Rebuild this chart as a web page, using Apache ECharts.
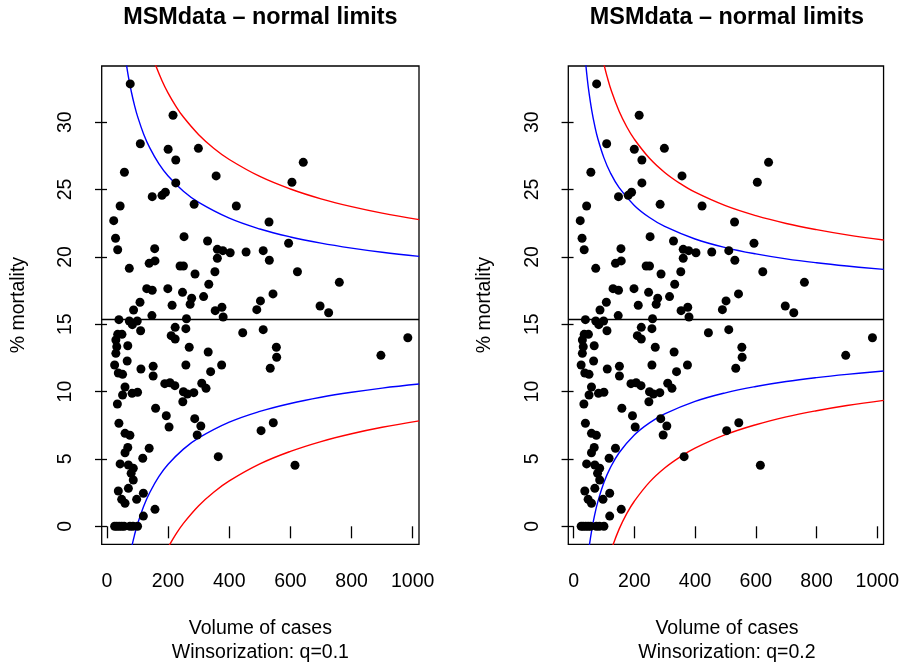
<!DOCTYPE html>
<html>
<head>
<meta charset="utf-8">
<script src="https://cdn.jsdelivr.net/npm/echarts@6.0.0/dist/echarts.min.js"></script>
<style>
html,body{margin:0;padding:0;background:#fff;}
#chart{width:902px;height:666px;}
</style>
</head>
<body>
<div id="chart"></div>
<script>
// ---- data ----
var volume = [76,216,109,200,299,225,57,357,225,148,180,191,285,423,43,22,530,28,252,329,35,156,361,379,403,455,511,361,531,
73,138,157,239,250,288,353,333,130,148,199,247,316,543,277,108,272,213,502,87,354,376,490,147,380,39,260,73,83,99,110,223,258,444,511,35,49,29,32,29,68,210,223,269,554,331,555,66,25,111,151,258,375,534,37,51,151,339,189,206,222,310,324,59,51,82,100,250,263,284,248,34,159,194,203,287,307,39,544,504,59,75,295,
68,59,138,117,364,43,70,86,79,86,37,70,119,48,59,97,157,119,25,32,40,48,56,75,85,100,
642,605,594,623,760,697,725,896,984,615];
var mortality = [32.84,30.51,28.40,27.99,28.06,27.19,26.28,26.01,25.49,24.47,24.57,24.80,23.90,23.78,23.78,22.69,22.59,21.38,21.50,21.18,20.53,20.61,20.56,20.46,20.31,20.36,20.46,19.90,19.75,
19.15,19.52,19.70,19.32,19.32,18.73,18.90,17.97,17.64,17.52,17.64,17.37,17.05,17.25,16.93,16.63,16.48,16.41,16.73,16.06,16.01,16.26,16.08,15.64,15.54,15.34,15.41,15.24,14.97,15.24,14.52,14.77,14.67,14.37,14.60,14.25,14.25,13.83,13.33,12.84,13.40,14.15,13.90,13.29,13.29,12.94,12.55,12.27,11.97,11.68,11.88,11.97,11.97,11.73,11.38,11.28,11.16,11.48,10.59,10.66,10.44,10.62,10.24,10.34,9.75,9.87,9.95,9.99,9.82,9.92,9.25,9.08,8.76,8.21,7.37,7.99,7.45,7.65,7.69,7.10,6.90,6.76,6.78,
5.85,5.46,5.79,5.05,5.17,4.63,4.55,4.31,3.93,3.44,2.62,2.82,2.45,2.00,1.71,2.00,1.26,0.76,0,0,0,0,0,0,0,0,
27.02,25.54,21.01,18.90,18.11,16.35,15.85,12.69,14.00,4.53];

var targetRate = 15.34;

// q = 0.1 limits (blue: inner, red: outer)
var q1InnerUpper = [[64,34.21],[70,33.38],[80,32.22],[90,31.25],[100,30.43],[120,29.11],[140,28.09],[170,26.90],[200,26.00],[250,24.87],[300,24.04],[400,22.87],[500,22.07],[600,21.48],[700,21.02],[800,20.65],[900,20.34],[1021,20.04]];
var q1InnerLower = [[80,-1.62],[90,-0.65],[100,0.17],[120,1.49],[140,2.51],[170,3.70],[200,4.60],[250,5.73],[300,6.56],[400,7.73],[500,8.53],[600,9.12],[700,9.58],[800,9.95],[900,10.26],[1021,10.56]];
var q1OuterUpper = [[155,34.46],[180,33.08],[200,32.16],[225,31.20],[250,30.38],[300,29.07],[350,28.05],[400,27.23],[500,25.97],[600,25.04],[700,24.31],[800,23.73],[900,23.25],[1021,22.77]];
var q1OuterLower = [[200,-1.56],[225,-0.60],[250,0.22],[300,1.53],[350,2.55],[400,3.37],[500,4.63],[600,5.56],[700,6.29],[800,6.87],[900,7.35],[1021,7.83]];

// q = 0.2 limits
var q2InnerUpper = [[40,34.35],[45,33.26],[50,32.34],[60,30.86],[70,29.70],[80,28.77],[100,27.35],[120,26.30],[150,25.14],[200,23.82],[250,22.92],[300,22.26],[400,21.33],[500,20.69],[600,20.22],[700,19.85],[800,19.56],[900,19.32],[1021,19.07]];
var q2InnerLower = [[50,-1.74],[60,-0.26],[70,0.90],[80,1.83],[100,3.25],[120,4.30],[150,5.46],[200,6.78],[250,7.68],[300,8.34],[400,9.27],[500,9.91],[600,10.38],[700,10.75],[800,11.04],[900,11.28],[1021,11.53]];
var q2OuterUpper = [[100,34.30],[110,33.42],[125,32.29],[150,30.81],[175,29.66],[200,28.74],[250,27.32],[300,26.27],[350,25.46],[400,24.80],[500,23.80],[600,23.06],[700,22.48],[800,22.02],[900,21.63],[1021,21.25]];
var q2OuterLower = [[125,-1.69],[150,-0.21],[175,0.94],[200,1.86],[250,3.28],[300,4.33],[350,5.14],[400,5.80],[500,6.80],[600,7.54],[700,8.12],[800,8.58],[900,8.97],[1021,9.35]];

var xTicks = [0,200,400,600,800,1000];
var yTicks = [0,5,10,15,20,25,30];
var panelTitles = ['MSMdata \u2013 normal limits','MSMdata \u2013 normal limits'];
var panelSubs = ['Winsorization: q=0.1','Winsorization: q=0.2'];
var xName = 'Volume of cases';
var yName = '% mortality';

// ---- chart ----
var FONT = '"Liberation Sans", Arial, Helvetica, sans-serif';
var points = volume.map(function(v,i){return [v, mortality[i]];});
var gridLefts = [101.7, 568.3];
var gridW = 317.3, gridTop = 66, gridH = 478.3;
function plain(v){ return String(v); }

function xAxisFor(i){
  return {type:'value', gridIndex:i, min:-17.3, max:1020.6,
    splitLine:{show:false}, axisLine:{show:false},
    axisTick:{show:true, customValues:xTicks, length:12, lineStyle:{color:'#000', width:1.3}},
    axisLabel:{customValues:xTicks, formatter:plain, margin:27, fontSize:19.5, color:'#000', fontFamily:FONT}};
}
function yAxisFor(i){
  return {type:'value', gridIndex:i, min:-1.336, max:34.17,
    splitLine:{show:false}, axisLine:{show:false},
    axisTick:{show:true, customValues:yTicks, length:12, lineStyle:{color:'#000', width:1.3}},
    axisLabel:{customValues:yTicks, formatter:plain, rotate:90, margin:26, fontSize:19.5, color:'#000', fontFamily:FONT}};
}
function curve(data, color, i){
  return {type:'line', xAxisIndex:i, yAxisIndex:i, data:data, showSymbol:false, symbol:'none',
    smooth:0.4, clip:true, silent:true,
    lineStyle:{color:color, width:1.4}, z:3};
}
function scatter(i){
  return {type:'scatter', xAxisIndex:i, yAxisIndex:i, data:points, symbol:'circle', symbolSize:9,
    itemStyle:{color:'#000', opacity:1}, z:4, silent:true,
    markLine:{silent:true, symbol:'none', label:{show:false}, animation:false,
      lineStyle:{color:'#000', width:1.3, type:'solid', opacity:1}, data:[{yAxis:targetRate}]}};
}

var graphics = [];
for (var i=0;i<2;i++){
  var cx = gridLefts[i] + gridW/2;
  graphics.push({type:'text', x:cx, y:18, style:{text:panelTitles[i], font:'bold 23.4px '+FONT, fill:'#000', align:'center', verticalAlign:'middle'}});
  graphics.push({type:'text', x:cx, y:629, style:{text:xName, font:'19.5px '+FONT, fill:'#000', align:'center', verticalAlign:'middle'}});
  graphics.push({type:'text', x:cx, y:652.7, style:{text:panelSubs[i], font:'19.5px '+FONT, fill:'#000', align:'center', verticalAlign:'middle'}});
  graphics.push({type:'text', x:gridLefts[i]-83.4, y:gridTop+gridH/2, rotation:Math.PI/2, style:{text:yName, font:'19.5px '+FONT, fill:'#000', align:'center', verticalAlign:'middle'}});
}

var chart = echarts.init(document.getElementById('chart'), null, {renderer:'canvas'});
chart.setOption({
  animation:false,
  backgroundColor:'#fff',
  grid:[
    {left:gridLefts[0], top:gridTop, width:gridW, height:gridH, show:true, borderColor:'#000', borderWidth:1.3, backgroundColor:'transparent', containLabel:false},
    {left:gridLefts[1], top:gridTop, width:gridW, height:gridH, show:true, borderColor:'#000', borderWidth:1.3, backgroundColor:'transparent', containLabel:false}
  ],
  xAxis:[xAxisFor(0), xAxisFor(1)],
  yAxis:[yAxisFor(0), yAxisFor(1)],
  series:[
    scatter(0),
    curve(q1InnerUpper,'#0000FF',0), curve(q1InnerLower,'#0000FF',0),
    curve(q1OuterUpper,'#FF0000',0), curve(q1OuterLower,'#FF0000',0),
    scatter(1),
    curve(q2InnerUpper,'#0000FF',1), curve(q2InnerLower,'#0000FF',1),
    curve(q2OuterUpper,'#FF0000',1), curve(q2OuterLower,'#FF0000',1)
  ],
  graphic:graphics
});
</script>
</body>
</html>
